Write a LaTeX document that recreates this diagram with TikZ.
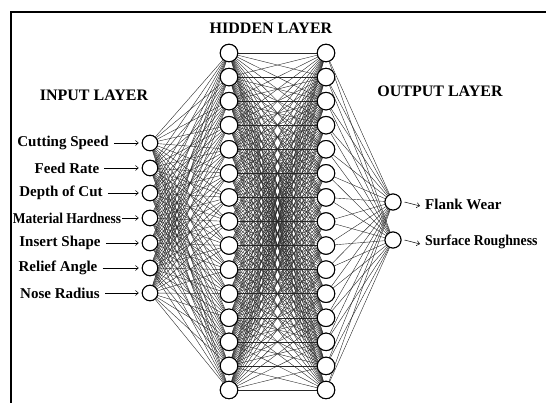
\documentclass[tikz,border=0pt]{standalone}
\usepackage{fontspec}
\setmainfont{Liberation Serif}
\usetikzlibrary{arrows.meta}
\tikzset{
    inode/.style={circle, draw, line width=1pt, fill=white, minimum size=15.5pt, inner sep=0pt},
    hnode/.style={circle, draw, line width=1pt, fill=white, minimum size=17.5pt, inner sep=0pt},
    onode/.style={circle, draw, line width=1pt, fill=white, minimum size=16pt, inner sep=0pt},
    link/.style={draw=black!85, line width=0.4pt},
    title/.style={font=\fontsize{16}{16}\selectfont\bfseries},
    label/.style={font=\fontsize{15}{15}\selectfont\bfseries, inner sep=1pt},
    feed/.style={-{Straight Barb[length=3pt,width=5pt]}, line width=0.5pt},
}

\begin{document}
\begin{tikzpicture}[x=1pt, y=-1pt]
    \useasboundingbox (0,0) rectangle (546,403);
    % frame
    \draw[line width=1.3pt] (11,403) -- (11,12) -- (546,12);

    % titles
    \node[title] (thid) at (271,28) {HIDDEN LAYER};
    \node[title] (tin) at (94,95) {INPUT LAYER};
    \node[title] (tout) at (440,91) {OUTPUT LAYER};

    % hidden layers
    \foreach \i in {1,...,15} {
        \node[hnode] (h\i) at (229,{53+24.07*(\i-1)}) {};
        \node[hnode] (k\i) at (326,{53+24.07*(\i-1)}) {};
    }

    % input layer
    \foreach \i in {1,...,7}
        \node[inode] (in\i) at (150,{143+25*(\i-1)}) {};

    % output layer
    \node[onode] (o1) at (393,202) {};
    \node[onode] (o2) at (393,240) {};

    % weights
    \foreach \i in {1,...,7}
        \foreach \j in {1,...,15}
            \draw[link] (in\i) -- (h\j);
    \foreach \i in {1,...,15}
        \foreach \j in {1,...,15}
            \draw[link] (h\i) -- (k\j);
    \foreach \i in {1,...,15}
        \foreach \j in {1,2}
            \draw[link] (k\i) -- (o\j);

    % redraw circles on top
    \foreach \i in {1,...,15} {
        \node[hnode] at (h\i) {};
        \node[hnode] at (k\i) {};
    }
    \foreach \i in {1,...,7}
        \node[inode] at (in\i) {};
    \node[onode] at (o1) {};
    \node[onode] at (o2) {};

    % inputs
    \node[label] (l1) at (63,143) {Cutting Speed};
    \node[label] (l2) at (67,168) {Feed Rate};
    \node[label] (l3) at (61,193) {Depth of Cut};
    \node[label] (l4) at (67,218) {\scalebox{0.9}[1]{Material Hardness}};
    \node[label] (l5) at (60,243) {Insert Shape};
    \node[label] (l6) at (58,268) {Relief Angle};
    \node[label] (l7) at (60,293) {Nose Radius};
    \foreach \i in {1,2,3,5,6,7}
        \draw[feed] ([xshift=4pt]l\i.east) -- ([xshift=-3pt]in\i.west);
    \draw[feed] (l4.east) -- ([xshift=-3pt]in4.west);

    % outputs
    \node[label, anchor=west] (r1) at (424,204) {Flank Wear};
    \node[label, anchor=west] (r2) at (424,242) {\scalebox{0.92}[1]{Surface Roughness}};
    \draw[feed] ([xshift=3pt]o1.east) -- ([shift={(-4pt,-2pt)}]r1.west);
    \draw[feed] ([xshift=3pt]o2.east) -- ([shift={(-4pt,-2pt)}]r2.west);
\end{tikzpicture}
\end{document}
